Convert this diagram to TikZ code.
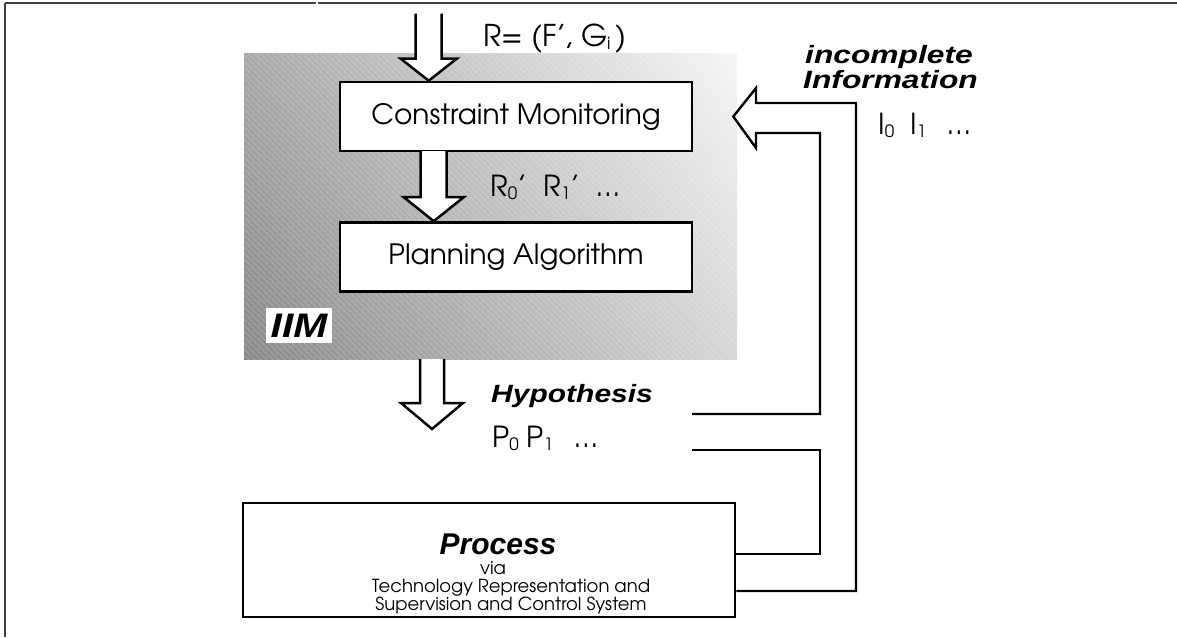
\documentclass[tikz,border=0pt]{standalone}
\usepackage{fontspec}
\usepackage{graphicx}
\setmainfont{Liberation Sans}
\newfontfamily\gothic{texgyreadventor}[Extension=.otf,UprightFont=*-regular,BoldFont=*-bold,ItalicFont=*-italic,BoldItalicFont=*-bolditalic]
\usetikzlibrary{patterns.meta}
\newcommand\lowidx[1]{\raisebox{-3pt}{\fontsize{17}{17}\selectfont #1}}
\newcommand\gtext{\gothic\fontsize{28}{32}\selectfont}
\newcommand\btext{\bfseries\itshape\fontsize{25}{30}\selectfont}
\newcommand\widen[2]{\scalebox{#1}[1]{#2}}

\begin{document}
\begin{tikzpicture}[x=1pt,y=-1pt,
  frameline/.style={line width=1.4pt, black!75},
  stagebox/.style={draw, line width=2.6pt, fill=white, inner sep=0pt,
    minimum width=352pt, minimum height=69pt, font=\gtext},
  blockarrow/.style={draw, line width=2.5pt, fill=white, line join=miter},
  feedback/.style={line width=2.4pt, line join=miter},
  txt/.style={inner sep=0pt, anchor=base west},
  lbl/.style={txt, font=\gothic\fontsize{29}{32}\selectfont},
]
\useasboundingbox (0,0) rectangle (1177,637);

% cell borders
\draw[frameline] (5,3) -- (316,3);
\draw[frameline] (318,3) -- (1177,3);
\draw[frameline] (5,3) -- (5,637);

% shaded IIM area with fine hatching
\node[inner sep=0pt, minimum width=493pt, minimum height=306pt,
      left color=black!38, right color=black!4] (iimarea) at (490.5,206) {};
\shade[top color=white, bottom color=black, opacity=0.12]
  (iimarea.north west) rectangle (iimarea.south east);
\fill[pattern={Lines[angle=-45,distance=4pt,line width=0.8pt]},
      pattern color=white, fill opacity=0.25]
  (iimarea.north west) rectangle (iimarea.south east);

% stages
\node[stagebox] (cm) at (516,116.5) {Constraint Monitoring};
\node[stagebox] (pa) at (516,257) {Planning Algorithm};
\node[fill=white, inner sep=0pt, minimum width=66pt, minimum height=35pt,
      font=\bfseries\itshape\fontsize{34}{34}\selectfont] (iim) at (299,325.5) {\widen{1.2}{IIM}};

% process box
\node[draw, line width=2.6pt, fill=white, minimum width=492pt, minimum height=114pt,
      inner sep=0pt] (proc) at (489,560) {};
\node[txt, anchor=base, font=\bfseries\itshape\fontsize{30}{30}\selectfont] (proctitle) at (498,554) {Process};
\node[txt, anchor=base, font=\gothic\fontsize{18}{18}\selectfont] (procvia) at (493,574) {via};
\node[txt, anchor=base, font=\gothic\fontsize{18}{18}\selectfont] (procl1) at (511,592) {Technology Representation and};
\node[txt, anchor=base, font=\gothic\fontsize{18}{18}\selectfont] (procl2) at (511,610) {Supervision and Control System};

% block arrows
\coordinate (tipA) at ([xshift=90pt]cm.north west);
\draw[blockarrow] ([xshift=-13pt,yshift=67pt]tipA) -- ([xshift=-13pt,yshift=22pt]tipA)
  -- ([xshift=-28pt,yshift=22pt]tipA) -- (tipA) -- ([xshift=28pt,yshift=22pt]tipA)
  -- ([xshift=13pt,yshift=22pt]tipA) -- ([xshift=13pt,yshift=67pt]tipA);

\coordinate (tipB) at ([xshift=95pt]pa.north west);
\draw[blockarrow] ([xshift=-13pt,yshift=70pt]tipB) -- ([xshift=-13pt,yshift=24pt]tipB)
  -- ([xshift=-30pt,yshift=24pt]tipB) -- (tipB) -- ([xshift=30pt,yshift=24pt]tipB)
  -- ([xshift=13pt,yshift=24pt]tipB) -- ([xshift=13pt,yshift=70pt]tipB);

\coordinate (tipC) at (432,429);
\draw[blockarrow] ([xshift=-12pt,yshift=70pt]tipC) -- ([xshift=-12pt,yshift=26pt]tipC)
  -- ([xshift=-31pt,yshift=26pt]tipC) -- (tipC) -- ([xshift=31pt,yshift=26pt]tipC)
  -- ([xshift=12pt,yshift=26pt]tipC) -- ([xshift=12pt,yshift=70pt]tipC);

% feedback of incomplete information
\coordinate (tipD) at ([xshift=40pt]cm.east);
\coordinate (hypA) at (692,414);
\coordinate (hypB) at (692,450);
\fill[white] (756,103) -- (756,88) -- (tipD) -- (756,148) -- (756,133) -- cycle;
\draw[feedback] ([yshift=-31pt]proc.east) -| (856,103) -- (756,103) -- (756,88)
  -- (tipD) -- (756,148) -- (756,133) -- (820,133) |- (hypA);
\draw[feedback] (hypB) -| (820,554) -- ([yshift=6pt]proc.east);

% labels
\node[lbl, font=\gothic\fontsize{30}{32}\selectfont] (req) at (483,46) {R= (F’, G\lowidx{i}\,)};
\node[lbl] (revised) at (490,196) {R\lowidx{0}’\ \ R\lowidx{1}’\ \ …};
\node[txt, font=\btext] (hyp) at (491,402) {\widen{1.2}{Hypothesis}};
\node[lbl] (plans) at (492,447) {P\lowidx{0}\ P\lowidx{1}\ \ \,…};
\node[txt, font=\btext] (inc1) at (805,63) {\widen{1.27}{incomplete}};
\node[txt, font=\btext] (inc2) at (803,88) {\widen{1.27}{Information}};
\node[lbl] (infos) at (878,134) {I\lowidx{0}\ \ I\lowidx{1}\ \ \,…};
\end{tikzpicture}
\end{document}
